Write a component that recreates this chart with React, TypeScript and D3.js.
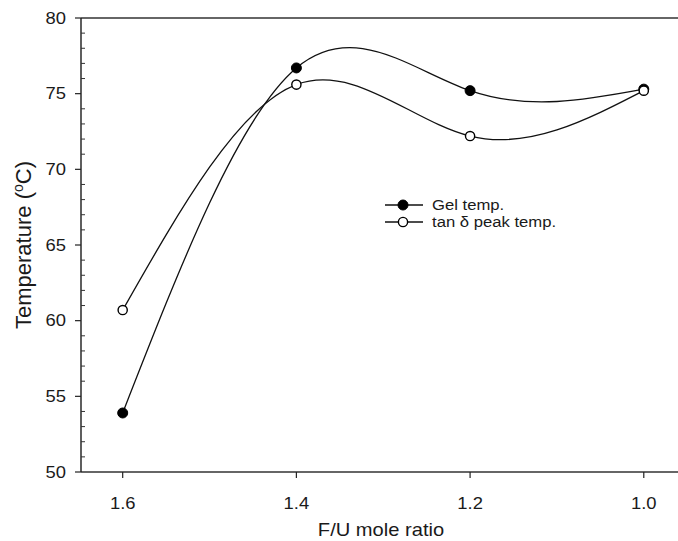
import React from "react";
import * as d3 from "d3";

const ratios = [1.6, 1.4, 1.2, 1.0];
const gelTemp = [53.9, 76.7, 75.2, 75.3];
const tanDeltaTemp = [60.7, 75.6, 72.2, 75.2];
const yTicks = [50, 55, 60, 65, 70, 75, 80];
const xTicks = [1.6, 1.4, 1.2, 1.0];
const seriesNames = ["Gel temp.", "tan \u03B4 peak temp."];

const W = 678;
const H = 541;
const FONT = "Arial, 'Liberation Sans', Helvetica, sans-serif";
const SX = 1.15;

function HText(props: {
  x: number;
  y: number;
  size: number;
  anchor?: "start" | "middle" | "end";
  dy?: string;
  children: React.ReactNode;
}) {
  return (
    <text
      transform={`translate(${props.x},${props.y}) scale(${SX},1)`}
      dy={props.dy}
      textAnchor={props.anchor || "start"}
      fontFamily={FONT}
      fontSize={props.size}
      fill="#1a1a1a"
    >
      {props.children}
    </text>
  );
}

export default function App() {
  const left = 81, right = 682, top = 18, bottom = 472;
  const x = d3.scaleLinear().domain([1.648, 0.956]).range([left, right]);
  const y = d3.scaleLinear().domain([50, 80]).range([bottom, top]);
  const line = d3
    .line<[number, number]>()
    .x((d) => x(d[0]))
    .y((d) => y(d[1]))
    .curve(d3.curveNatural);

  const gel = ratios.map((r, i) => [r, gelTemp[i]] as [number, number]);
  const tan = ratios.map((r, i) => [r, tanDeltaTemp[i]] as [number, number]);
  const minor = d3.range(50, 81, 1).filter((v) => v % 5 !== 0);

  const stroke = "#111";

  return (
    <svg
      width={W}
      height={H}
      style={{ position: "absolute", left: 0, top: 0, background: "#fff" }}
    >
      <rect x={0} y={0} width={W} height={H} fill="#fff" />
      {/* frame */}
      <line x1={left} x2={right} y1={top} y2={top} stroke="#333" strokeWidth={1.5} />
      <line x1={left} x2={right} y1={bottom} y2={bottom} stroke="#333" strokeWidth={1.5} />
      <line x1={left} x2={left} y1={top} y2={bottom} stroke="#1a1a1a" strokeWidth={1.4} />

      {/* y ticks */}
      {yTicks.map((v) => (
        <g key={v}>
          <line x1={left - 6} x2={left} y1={y(v)} y2={y(v)} stroke="#222" strokeWidth={1.2} />
          <HText x={left - 15} y={y(v)} dy="0.36em" size={16} anchor="end">
            {v}
          </HText>
        </g>
      ))}
      {minor.map((v) => (
        <line key={v} x1={left} x2={left + 4} y1={y(v)} y2={y(v)} stroke="#333" strokeWidth={1} />
      ))}

      {/* x ticks */}
      {xTicks.map((v) => (
        <g key={v}>
          <line x1={x(v)} x2={x(v)} y1={bottom} y2={bottom + 6} stroke="#222" strokeWidth={1.2} />
          <HText x={x(v)} y={509} size={16} anchor="middle">
            {v.toFixed(1)}
          </HText>
        </g>
      ))}

      {/* axis titles */}
      <HText x={381} y={536} size={17.5} anchor="middle">
        F/U mole ratio
      </HText>
      <text
        transform={`translate(31, ${(top + bottom) / 2}) rotate(-90)`}
        textAnchor="middle"
        fontFamily={FONT}
        fontSize={22}
        fill="#1a1a1a"
      >
        Temperature (<tspan dy="-8" fontSize={14}>o</tspan>
        <tspan dy="8">C)</tspan>
      </text>

      {/* curves */}
      <path d={line(gel) || ""} fill="none" stroke={stroke} strokeWidth={1.3} />
      <path d={line(tan) || ""} fill="none" stroke={stroke} strokeWidth={1.3} />
      {gel.map((d, i) => (
        <circle key={"g" + i} cx={x(d[0])} cy={y(d[1])} r={5} fill="#000" stroke="#000" strokeWidth={1} />
      ))}
      {tan.map((d, i) => (
        <circle key={"t" + i} cx={x(d[0])} cy={y(d[1])} r={4.6} fill="#fff" stroke="#000" strokeWidth={1.4} />
      ))}

      {/* legend */}
      {seriesNames.map((name, i) => {
        const ly = 205 + i * 17;
        return (
          <g key={name}>
            <line x1={385} x2={423} y1={ly} y2={ly} stroke={stroke} strokeWidth={1.3} />
            <circle
              cx={403}
              cy={ly}
              r={i === 0 ? 5 : 4.6}
              fill={i === 0 ? "#000" : "#fff"}
              stroke="#000"
              strokeWidth={i === 0 ? 1 : 1.4}
            />
            <HText x={432} y={ly} dy="0.36em" size={14.5}>
              {name}
            </HText>
          </g>
        );
      })}
    </svg>
  );
}
